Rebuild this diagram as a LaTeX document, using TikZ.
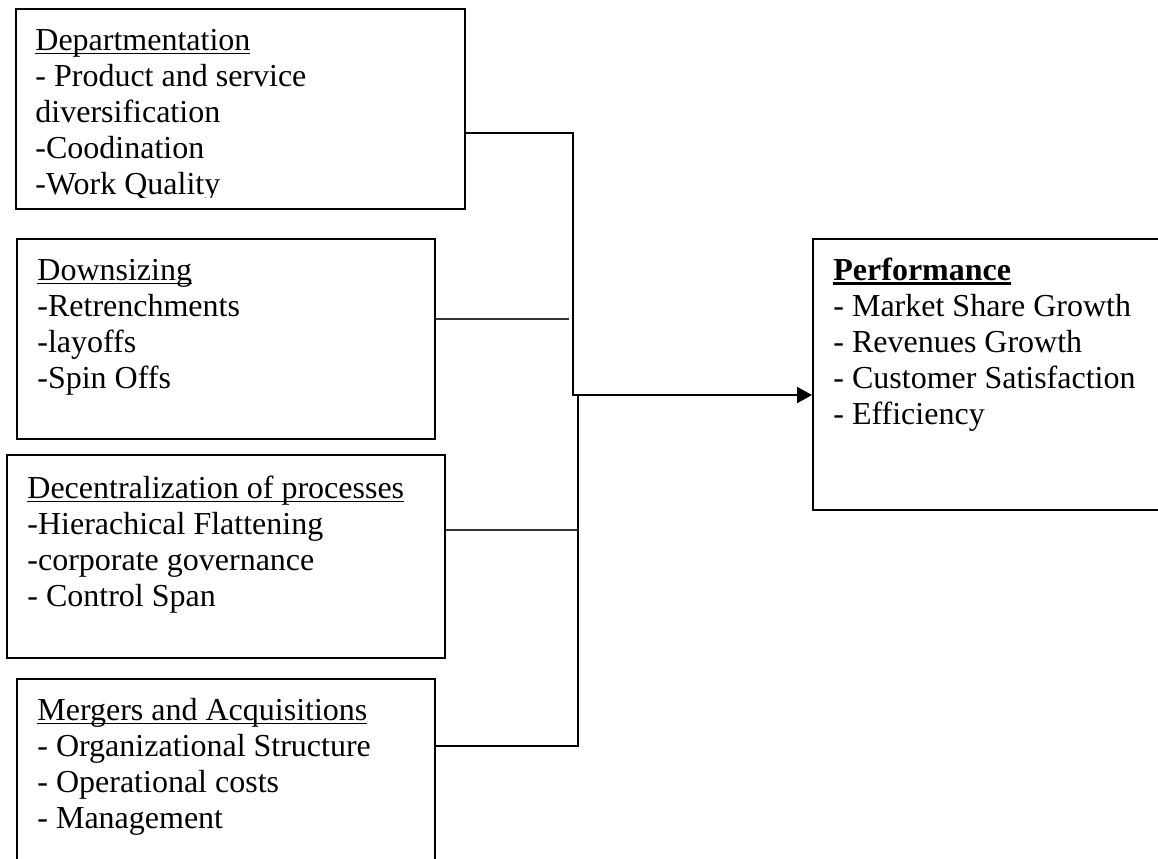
\documentclass[tikz,border=0pt]{standalone}
\usepackage{fontspec}
\setmainfont{Liberation Serif}
\usetikzlibrary{arrows.meta}
\newcommand\myul[1]{\setbox0\hbox{#1}\rlap{\rule[-1.8pt]{\wd0}{0.75pt}}\box0}
\newcommand\myulb[1]{\setbox0\hbox{#1}\rlap{\rule[-2.1pt]{\wd0}{1.3pt}}\box0}
\begin{document}
\begin{tikzpicture}[x=0.5pt,y=-0.5pt,
  box/.style={draw=black, line width=1pt, inner sep=0pt},
  txt/.style={anchor=north west, inner sep=0pt, align=left,
    font=\fontsize{16pt}{18pt}\selectfont},
  conn/.style={draw=black, line width=1.1pt},
  thinconn/.style={draw=black!80, line width=0.75pt},
  arr/.style={-{Triangle[length=7.5pt,width=8pt]}}]
\clip (0,0) rectangle (1158,858);
\fill[white] (0,0) rectangle (1158,858);
% boxes
\node[box, minimum width=224.5pt, minimum height=100pt] (dept) at (240.5,109) {};
\node[box, minimum width=209pt, minimum height=100pt] (down) at (226,339) {};
\node[box, minimum width=219pt, minimum height=101.5pt] (decen) at (226,556.5) {};
\node[box, minimum width=209pt, minimum height=110.5pt] (merg) at (226,789.5) {};
\node[box, minimum width=193.5pt, minimum height=135.5pt] (perf) at (1006.5,374.5) {};
% texts
\begin{scope}
\clip (0,0) rectangle (470,197);
\node[txt] (tdept) at (35,26) {\rule{0pt}{12pt}\myul{Departmentation}\\- Product and service\\diversification\\-Coodination\\-Work Quality};
\end{scope}
\node[txt] (tdown) at (37,256) {\rule{0pt}{12pt}\myul{Downsizing}\\-Retrenchments\\-layoffs\\-Spin Offs};
\node[txt] (tdecen) at (27,474) {\rule{0pt}{12pt}\myul{Decentralization of processes}\\-Hierachical Flattening\\-corporate governance\\- Control Span};
\node[txt] (tmerg) at (37,696) {\rule{0pt}{12pt}\myul{Mergers and Acquisitions}\\- Organizational Structure\\- Operational costs\\- Management};
\node[txt] (tperf) at (833,256) {\rule{0pt}{12pt}\myulb{\textbf{Performance}}\\- Market Share Growth\\- Revenues Growth\\- Customer Satisfaction\\- Efficiency};
% junctions
\coordinate (j1) at (573,133);
\coordinate (j2) at (573,395);
\coordinate (j3) at (578,395);
\coordinate (j4) at (578,746);
\coordinate (j5) at (578,530);
\coordinate (dsend) at (569,319);
% connectors
\draw[conn, arr] (dept.east |- j1) -- (j1) -- (j2) -- (perf.west |- j2);
\draw[conn] (j3) -- (j4) -- (merg.east |- j4);
\draw[thinconn] (decen.east |- j5) -- (j5);
\draw[thinconn] (down.east |- dsend) -- (dsend);
\end{tikzpicture}
\end{document}
